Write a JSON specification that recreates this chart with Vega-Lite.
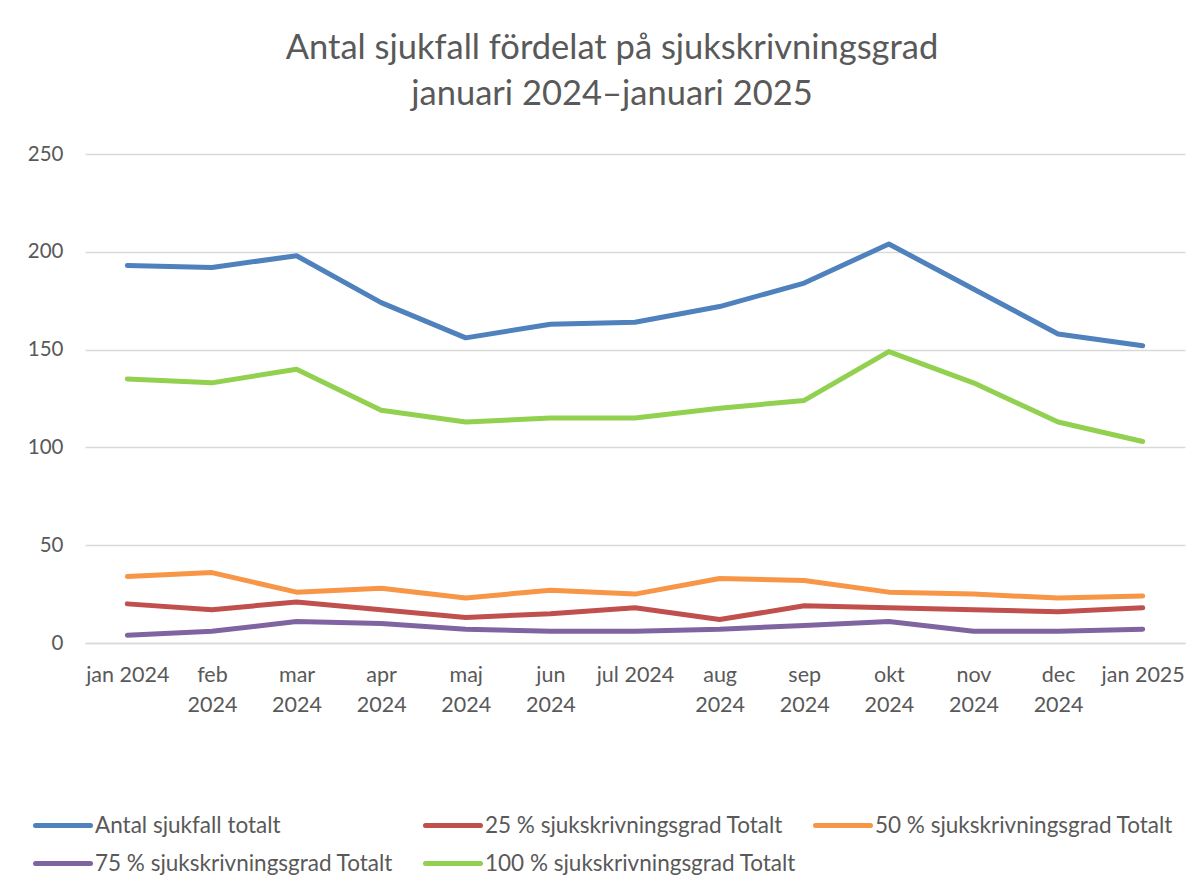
{
  "$schema": "https://vega.github.io/schema/vega-lite/v6.json",
  "autosize": {"type": "none"},
  "width": 1100,
  "height": 489,
  "padding": {"left": 85, "top": 154, "right": 15, "bottom": 233},
  "background": "white",
  "config": {
    "font": "Lato",
    "view": {"stroke": null}
  },
  "title": {
    "text": ["Antal sjukfall fördelat på sjukskrivningsgrad", "januari 2024–januari 2025"],
    "fontSize": 34.5,
    "font": "Lato",
    "fontWeight": "normal",
    "color": "#595959",
    "lineHeight": 46,
    "anchor": "middle",
    "dx": -23,
    "offset": 32
  },
  "data": {
    "values": [
      {"m": "jan 2024", "s": "Antal sjukfall totalt", "v": 193},
      {"m": "feb 2024", "s": "Antal sjukfall totalt", "v": 192},
      {"m": "mar 2024", "s": "Antal sjukfall totalt", "v": 198},
      {"m": "apr 2024", "s": "Antal sjukfall totalt", "v": 174},
      {"m": "maj 2024", "s": "Antal sjukfall totalt", "v": 156},
      {"m": "jun 2024", "s": "Antal sjukfall totalt", "v": 163},
      {"m": "jul 2024", "s": "Antal sjukfall totalt", "v": 164},
      {"m": "aug 2024", "s": "Antal sjukfall totalt", "v": 172},
      {"m": "sep 2024", "s": "Antal sjukfall totalt", "v": 184},
      {"m": "okt 2024", "s": "Antal sjukfall totalt", "v": 204},
      {"m": "nov 2024", "s": "Antal sjukfall totalt", "v": 181},
      {"m": "dec 2024", "s": "Antal sjukfall totalt", "v": 158},
      {"m": "jan 2025", "s": "Antal sjukfall totalt", "v": 152},
      {"m": "jan 2024", "s": "25 % sjukskrivningsgrad Totalt", "v": 20},
      {"m": "feb 2024", "s": "25 % sjukskrivningsgrad Totalt", "v": 17},
      {"m": "mar 2024", "s": "25 % sjukskrivningsgrad Totalt", "v": 21},
      {"m": "apr 2024", "s": "25 % sjukskrivningsgrad Totalt", "v": 17},
      {"m": "maj 2024", "s": "25 % sjukskrivningsgrad Totalt", "v": 13},
      {"m": "jun 2024", "s": "25 % sjukskrivningsgrad Totalt", "v": 15},
      {"m": "jul 2024", "s": "25 % sjukskrivningsgrad Totalt", "v": 18},
      {"m": "aug 2024", "s": "25 % sjukskrivningsgrad Totalt", "v": 12},
      {"m": "sep 2024", "s": "25 % sjukskrivningsgrad Totalt", "v": 19},
      {"m": "okt 2024", "s": "25 % sjukskrivningsgrad Totalt", "v": 18},
      {"m": "nov 2024", "s": "25 % sjukskrivningsgrad Totalt", "v": 17},
      {"m": "dec 2024", "s": "25 % sjukskrivningsgrad Totalt", "v": 16},
      {"m": "jan 2025", "s": "25 % sjukskrivningsgrad Totalt", "v": 18},
      {"m": "jan 2024", "s": "50 % sjukskrivningsgrad Totalt", "v": 34},
      {"m": "feb 2024", "s": "50 % sjukskrivningsgrad Totalt", "v": 36},
      {"m": "mar 2024", "s": "50 % sjukskrivningsgrad Totalt", "v": 26},
      {"m": "apr 2024", "s": "50 % sjukskrivningsgrad Totalt", "v": 28},
      {"m": "maj 2024", "s": "50 % sjukskrivningsgrad Totalt", "v": 23},
      {"m": "jun 2024", "s": "50 % sjukskrivningsgrad Totalt", "v": 27},
      {"m": "jul 2024", "s": "50 % sjukskrivningsgrad Totalt", "v": 25},
      {"m": "aug 2024", "s": "50 % sjukskrivningsgrad Totalt", "v": 33},
      {"m": "sep 2024", "s": "50 % sjukskrivningsgrad Totalt", "v": 32},
      {"m": "okt 2024", "s": "50 % sjukskrivningsgrad Totalt", "v": 26},
      {"m": "nov 2024", "s": "50 % sjukskrivningsgrad Totalt", "v": 25},
      {"m": "dec 2024", "s": "50 % sjukskrivningsgrad Totalt", "v": 23},
      {"m": "jan 2025", "s": "50 % sjukskrivningsgrad Totalt", "v": 24},
      {"m": "jan 2024", "s": "75 % sjukskrivningsgrad Totalt", "v": 4},
      {"m": "feb 2024", "s": "75 % sjukskrivningsgrad Totalt", "v": 6},
      {"m": "mar 2024", "s": "75 % sjukskrivningsgrad Totalt", "v": 11},
      {"m": "apr 2024", "s": "75 % sjukskrivningsgrad Totalt", "v": 10},
      {"m": "maj 2024", "s": "75 % sjukskrivningsgrad Totalt", "v": 7},
      {"m": "jun 2024", "s": "75 % sjukskrivningsgrad Totalt", "v": 6},
      {"m": "jul 2024", "s": "75 % sjukskrivningsgrad Totalt", "v": 6},
      {"m": "aug 2024", "s": "75 % sjukskrivningsgrad Totalt", "v": 7},
      {"m": "sep 2024", "s": "75 % sjukskrivningsgrad Totalt", "v": 9},
      {"m": "okt 2024", "s": "75 % sjukskrivningsgrad Totalt", "v": 11},
      {"m": "nov 2024", "s": "75 % sjukskrivningsgrad Totalt", "v": 6},
      {"m": "dec 2024", "s": "75 % sjukskrivningsgrad Totalt", "v": 6},
      {"m": "jan 2025", "s": "75 % sjukskrivningsgrad Totalt", "v": 7},
      {"m": "jan 2024", "s": "100 % sjukskrivningsgrad Totalt", "v": 135},
      {"m": "feb 2024", "s": "100 % sjukskrivningsgrad Totalt", "v": 133},
      {"m": "mar 2024", "s": "100 % sjukskrivningsgrad Totalt", "v": 140},
      {"m": "apr 2024", "s": "100 % sjukskrivningsgrad Totalt", "v": 119},
      {"m": "maj 2024", "s": "100 % sjukskrivningsgrad Totalt", "v": 113},
      {"m": "jun 2024", "s": "100 % sjukskrivningsgrad Totalt", "v": 115},
      {"m": "jul 2024", "s": "100 % sjukskrivningsgrad Totalt", "v": 115},
      {"m": "aug 2024", "s": "100 % sjukskrivningsgrad Totalt", "v": 120},
      {"m": "sep 2024", "s": "100 % sjukskrivningsgrad Totalt", "v": 124},
      {"m": "okt 2024", "s": "100 % sjukskrivningsgrad Totalt", "v": 149},
      {"m": "nov 2024", "s": "100 % sjukskrivningsgrad Totalt", "v": 133},
      {"m": "dec 2024", "s": "100 % sjukskrivningsgrad Totalt", "v": 113},
      {"m": "jan 2025", "s": "100 % sjukskrivningsgrad Totalt", "v": 103}
    ]
  },
  "mark": {"type": "line", "strokeWidth": 5, "strokeCap": "round", "strokeJoin": "round"},
  "encoding": {
    "x": {
      "field": "m",
      "type": "ordinal",
      "sort": null,
      "scale": {"type": "point", "padding": 0.5},
      "axis": {
        "title": null,
        "labelAngle": 0,
        "labelFontSize": 21.5,
        "labelColor": "#595959",
        "labelLineHeight": 30,
        "labelPadding": 32,
        "labelBaseline": "middle",
        "ticks": false,
        "domain": true,
        "domainColor": "#d9d9d9",
        "domainWidth": 1.5,
        "grid": false,
        "labelExpr": "indexof(['jan 2024','jul 2024','jan 2025'], datum.value) >= 0 ? datum.value : split(datum.value, ' ')"
      }
    },
    "y": {
      "field": "v",
      "type": "quantitative",
      "scale": {"domain": [0, 250], "nice": false},
      "axis": {
        "title": null,
        "values": [0, 50, 100, 150, 200, 250],
        "labelFontSize": 20.5,
        "labelColor": "#595959",
        "labelPadding": 22,
        "ticks": false,
        "domain": false,
        "grid": true,
        "gridColor": "#d9d9d9",
        "gridWidth": 1.5
      }
    },
    "color": {
      "field": "s",
      "type": "nominal",
      "scale": {
        "domain": ["Antal sjukfall totalt", "25 % sjukskrivningsgrad Totalt", "50 % sjukskrivningsgrad Totalt", "75 % sjukskrivningsgrad Totalt", "100 % sjukskrivningsgrad Totalt"],
        "range": ["#4F81BD", "#C0504D", "#F79646", "#8064A2", "#92D050"]
      },
      "legend": {
        "title": null,
        "orient": "none",
        "direction": "horizontal",
        "legendX": -34.5,
        "legendY": 659,
        "columns": 3,
        "gridAlign": "all",
        "columnPadding": 9,
        "rowPadding": 14,
        "symbolType": "M-2.75,0L2.75,0",
        "symbolSize": 400,
        "symbolStrokeWidth": 5,
        "symbolOffset": 0,
        "labelOffset": 19.5,
        "labelFontSize": 22.5,
        "labelColor": "#595959",
        "labelLimit": 400,
        "symbolFillColor": "transparent",
        "encode": {"symbols": {"update": {"strokeCap": {"value": "round"}}}}
      }
    }
  }
}
